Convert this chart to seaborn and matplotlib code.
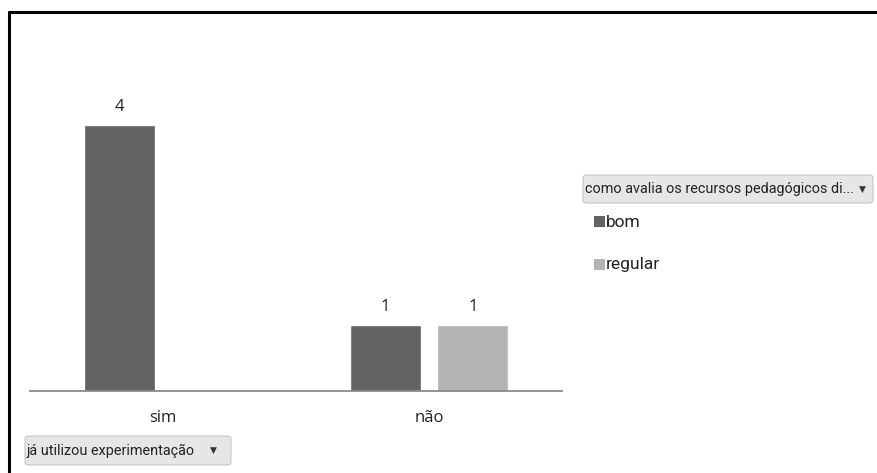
import matplotlib
matplotlib.use("Agg")
import matplotlib.pyplot as plt
import seaborn as sns
import pandas as pd
from matplotlib.patches import FancyBboxPatch, Rectangle
from matplotlib.lines import Line2D

# Survey counts: "já utilizou experimentação" x "como avalia os recursos pedagógicos"
categories = ["sim", "não"]
series = ["bom", "regular"]
bom = [4, 1]
regular = [None, 1]
colors = ["#636363", "#b3b3b3"]

rows = []
for cat, b, r in zip(categories, bom, regular):
    if b is not None:
        rows.append((cat, "bom", b))
    if r is not None:
        rows.append((cat, "regular", r))
df = pd.DataFrame(rows, columns=["experimentacao", "avaliacao", "n"])

sns.set_theme(style="white")
plt.rcParams["font.family"] = ["Open Sans", "DejaVu Sans"]
NARROW = ["Roboto", "DejaVu Sans"]

W, H = 877, 473
fig = plt.figure(figsize=(W / 100, H / 100), dpi=100)


def fx(px):
    return px / W


def fy(py):
    return 1 - py / H


ax = fig.add_axes([fx(30), fy(391), fx(562) - fx(30), fy(58.5) - fy(391)])
sns.barplot(data=df, x="experimentacao", y="n", hue="avaliacao",
            order=categories, hue_order=series, palette=colors,
            width=0.66, gap=0.19, saturation=1, errorbar=None,
            legend=False, ax=ax)

for cont in ax.containers:
    ax.bar_label(cont, fmt="%d", padding=7, fontsize=12, color="#222222")

ax.set_ylim(0, 5)
ax.set_xlim(-0.5, 1.5)
ax.set_xlabel("")
ax.set_ylabel("")
ax.set_yticks([])
for s in ["top", "right", "left"]:
    ax.spines[s].set_visible(False)
ax.spines["bottom"].set_color("#8a8a8a")
ax.spines["bottom"].set_linewidth(1.3)
ax.tick_params(axis="x", length=0, pad=14, labelsize=12, labelcolor="#222222")

# outer frame (left and top edges)
fig.add_artist(Line2D([fx(8.5), fx(8.5)], [fy(12.5), 0], color="black", lw=2.2,
                      transform=fig.transFigure))
fig.add_artist(Line2D([fx(8.5), 1], [fy(12.5), fy(12.5)], color="black", lw=2.2,
                      transform=fig.transFigure))


def dropdown(x0, y0, x1, y1, label, arrow_x):
    box = FancyBboxPatch((fx(x0), fy(y1)), fx(x1) - fx(x0), fy(y0) - fy(y1),
                         boxstyle="round,pad=0,rounding_size=0.006",
                         transform=fig.transFigure, facecolor="#e6e6e6",
                         edgecolor="#c4c4c4", lw=0.8)
    fig.add_artist(box)
    fig.text(fx(x0 + 2), fy((y0 + y1) / 2), label, fontsize=10.4,
             color="#222222", ha="left", va="center", family=NARROW)
    fig.text(fx(arrow_x), fy((y0 + y1) / 2), "▼", fontsize=6.5,
             color="#333333", ha="center", va="center", family="DejaVu Sans")


dropdown(25, 436, 231, 465, "já utilizou experimentação", 213)
dropdown(583, 175, 873, 203, "como avalia os recursos pedagógicos di...", 862)

# legend entries
for i, (name, col) in enumerate(zip(series, colors)):
    yc = 222 + i * 42
    fig.add_artist(Rectangle((fx(594), fy(yc + 5.5)), fx(605) - fx(594),
                             fy(yc - 5.5) - fy(yc + 5.5), facecolor=col,
                             edgecolor="none", transform=fig.transFigure))
    fig.text(fx(606), fy(yc), name, fontsize=12.5, color="#222222",
             ha="left", va="center", family=NARROW)

fig.savefig("out.png", dpi=100, facecolor="white")
